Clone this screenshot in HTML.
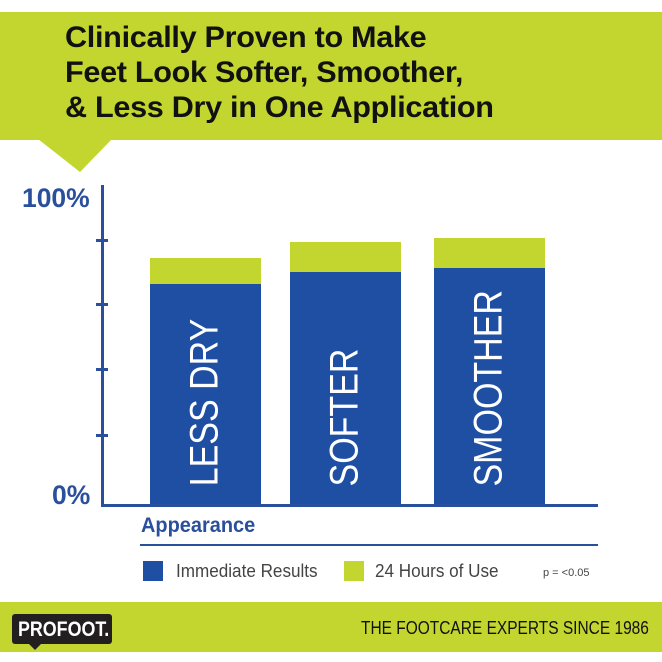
<!DOCTYPE html>
<html><head><style>
body{margin:0;width:662px;height:662px;background:#fff;position:relative;overflow:hidden;font-family:"Liberation Sans",sans-serif}
.a{position:absolute}
.t{font-weight:bold;font-size:30px;color:#111;white-space:nowrap;transform-origin:0 0;transform:scaleX(1.02);letter-spacing:-0.3px}
.bar{position:absolute;background:#1f4fa3}
.g{position:absolute;background:#c2d62f}
.vt{position:absolute;color:#fff;font-size:40px;white-space:nowrap;transform-origin:center;}
.tick{position:absolute;left:96px;width:12px;height:3px;background:#2a4f9c}
</style></head><body>
<div class="a" style="left:0;top:12px;width:662px;height:128px;background:#c2d62f"></div>
<svg class="a" style="left:0;top:139px" width="140" height="35"><polygon points="38,0 112,0 80,33" fill="#c2d62f"/></svg>
<div class="a t" style="left:65px;top:21px">Clinically Proven to Make</div>
<div class="a t" style="left:65px;top:56px">Feet Look Softer, Smoother,</div>
<div class="a t" style="left:65px;top:91px">&amp; Less Dry in One Application</div>

<div class="a" style="left:22px;top:183px;font-weight:bold;font-size:27px;color:#2a4f9c;transform:scaleX(0.98);transform-origin:0 0">100%</div>
<div class="a" style="left:52px;top:480px;font-weight:bold;font-size:27px;color:#2a4f9c;transform:scaleX(0.98);transform-origin:0 0">0%</div>
<div class="a" style="left:101px;top:185px;width:3px;height:322px;background:#2a4f9c"></div>
<div class="a" style="left:101px;top:504px;width:497px;height:3px;background:#2a4f9c"></div>
<div class="tick" style="top:239px"></div>
<div class="tick" style="top:303px"></div>
<div class="tick" style="top:368px"></div>
<div class="tick" style="top:434px"></div>

<div class="g" style="left:150px;top:258px;width:111px;height:26px"></div>
<div class="bar" style="left:150px;top:284px;width:111px;height:220px"></div>
<div class="g" style="left:290px;top:242px;width:111px;height:30px"></div>
<div class="bar" style="left:290px;top:272px;width:111px;height:232px"></div>
<div class="g" style="left:434px;top:238px;width:111px;height:30px"></div>
<div class="bar" style="left:434px;top:268px;width:111px;height:236px"></div>

<div class="vt" style="left:105px;top:380px;width:200px;text-align:center;transform:rotate(-90deg) scaleX(0.85)">LESS DRY</div>
<div class="vt" style="left:245px;top:395px;width:200px;text-align:center;transform:rotate(-90deg) scaleX(0.85)">SOFTER</div>
<div class="vt" style="left:389px;top:379px;width:200px;text-align:center;transform:rotate(-90deg) scaleX(0.85)">SMOOTHER</div>

<div class="a" style="left:141px;top:514px;font-weight:bold;font-size:21px;color:#2a4f9c;transform:scaleX(0.95);transform-origin:0 0">Appearance</div>
<div class="a" style="left:140px;top:544px;width:458px;height:2px;background:#2a4f9c"></div>
<div class="a" style="left:143px;top:561px;width:20px;height:20px;background:#1f4fa3"></div>
<div class="a" style="left:176px;top:561px;font-size:18px;color:#444;transform:scaleX(0.95);transform-origin:0 0">Immediate Results</div>
<div class="a" style="left:344px;top:561px;width:20px;height:20px;background:#c2d62f"></div>
<div class="a" style="left:375px;top:561px;font-size:18px;color:#444;transform:scaleX(0.95);transform-origin:0 0">24 Hours of Use</div>
<div class="a" style="left:543px;top:567px;font-size:11px;color:#444">p = &lt;0.05</div>

<div class="a" style="left:0;top:602px;width:662px;height:50px;background:#c2d62f"></div>
<div class="a" style="left:12px;top:614px;width:100px;height:30px;background:#231f20;border-radius:3px"></div>
<svg class="a" style="left:28px;top:643px" width="16" height="8"><polygon points="0,0 14,0 7,7" fill="#231f20"/></svg>
<div class="a" style="left:18px;top:618px;font-weight:bold;font-size:21px;color:#fff;transform:scaleX(0.85);transform-origin:0 0">PROFOOT.</div>
<div class="a" style="left:361px;top:618px;font-size:18px;color:#111;white-space:nowrap;transform:scaleX(0.86);transform-origin:0 0">THE FOOTCARE EXPERTS SINCE 1986</div>
</body></html>
